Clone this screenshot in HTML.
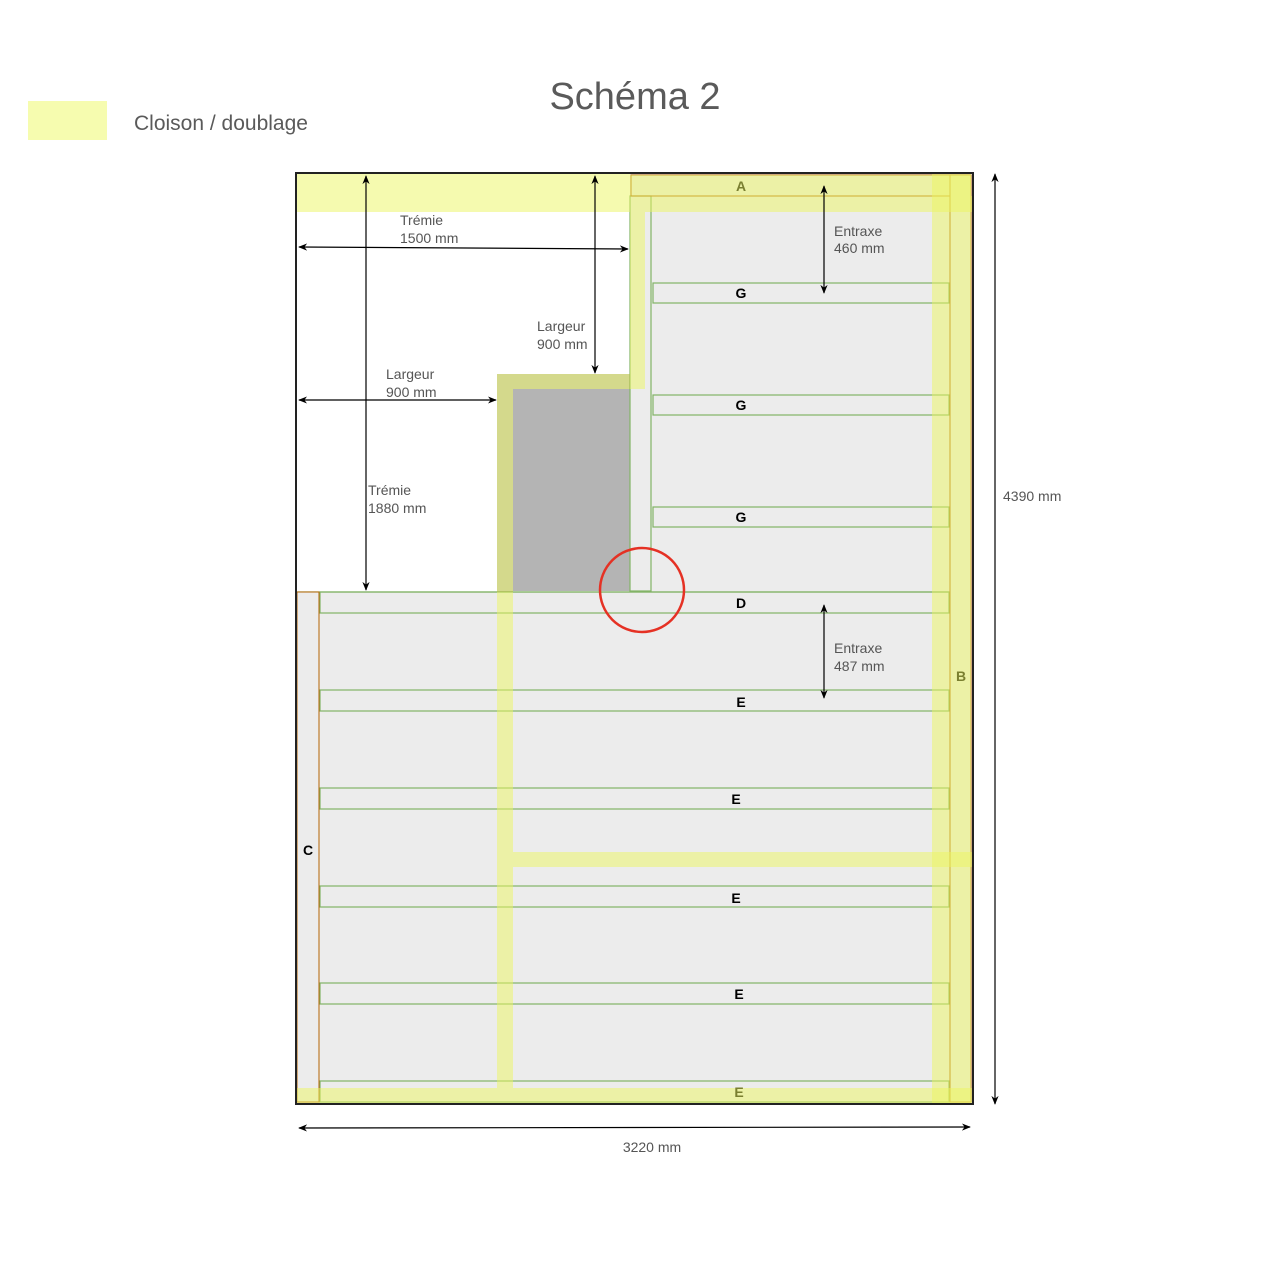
<!DOCTYPE html>
<html><head><meta charset="utf-8"><style>
html,body{margin:0;padding:0;background:#fff;width:1270px;height:1270px;overflow:hidden}
text{font-family:"Liberation Sans",Arial,sans-serif}
</style></head><body>
<svg width="1270" height="1270" viewBox="0 0 1270 1270" xmlns="http://www.w3.org/2000/svg">
<defs>
<marker id="ar" viewBox="0 0 10 10" refX="9" refY="5" markerWidth="9" markerHeight="9" orient="auto-start-reverse" markerUnits="userSpaceOnUse">
<path d="M0,1 L10,5 L0,9 L3,5 Z" fill="#000"/></marker>
</defs>
<text x="635" y="109" font-size="38" fill="#5a5a5a" text-anchor="middle">Schéma 2</text>
<rect x="28" y="101" width="79" height="39" fill="#f6fcaf"/>
<text x="134" y="130" font-size="21" fill="#5a5a5a">Cloison / doublage</text>

<rect x="296" y="592" width="677" height="512" fill="#ececec"/>
<rect x="630" y="173" width="343" height="419" fill="#ececec"/>
<rect x="513" y="389" width="117" height="202" fill="#b4b4b4"/>

<g fill="#ececec" stroke="#82b366" stroke-width="1.2">
<rect x="630" y="196" width="21" height="395"/>
<rect x="653" y="283" width="296" height="20"/>
<rect x="653" y="395" width="296" height="20"/>
<rect x="653" y="507" width="296" height="20"/>
<rect x="320" y="592" width="629" height="21"/>
<rect x="320" y="690" width="629" height="21"/>
<rect x="320" y="788" width="629" height="21"/>
<rect x="320" y="886" width="629" height="21"/>
<rect x="320" y="983" width="629" height="21"/>
<rect x="320" y="1081" width="629" height="21"/>
</g>
<line x1="296" y1="592" x2="949" y2="592" stroke="#82b366" stroke-width="1.2"/>
<rect x="297" y="592" width="22" height="510" fill="#ececec" stroke="#b46504" stroke-width="1"/>
<rect x="631" y="175" width="319" height="21" fill="none" stroke="#b46504" stroke-width="1"/>
<rect x="950" y="175" width="21" height="927" fill="none" stroke="#b46504" stroke-width="1"/>

<g fill="#ecf560" fill-opacity="0.5">
<rect x="296" y="173" width="334" height="39"/>
<rect x="630" y="175" width="341" height="21"/>
<rect x="645" y="196" width="328" height="16"/>
<rect x="630" y="196" width="15" height="193"/>
<rect x="497" y="374" width="133" height="15" fill="#b8c040" fill-opacity="0.6"/>
<rect x="497" y="389" width="16" height="203" fill="#b8c040" fill-opacity="0.6"/>
<rect x="497" y="592" width="16" height="496"/>
<rect x="513" y="852" width="460" height="15"/>
<rect x="296" y="1088" width="677" height="16"/>
<rect x="932" y="173" width="18" height="931"/>
<rect x="950" y="173" width="21" height="931"/>
</g>

<rect x="296" y="173" width="677" height="931" fill="none" stroke="#222" stroke-width="2"/>

<circle cx="642" cy="590" r="42" fill="none" stroke="#e53124" stroke-width="2.5"/>

<g font-size="14" font-weight="bold" fill="#000" text-anchor="middle">
<text x="741" y="298">G</text><text x="741" y="410">G</text><text x="741" y="522">G</text>
<text x="741" y="608">D</text><text x="741" y="707">E</text><text x="736" y="804">E</text>
<text x="736" y="903">E</text><text x="739" y="999">E</text>
<text x="308" y="855">C</text>
</g>
<g font-size="14" font-weight="bold" fill="#7a7f30" text-anchor="middle">
<text x="741" y="191">A</text><text x="739" y="1097">E</text><text x="961" y="681">B</text>
</g>

<g stroke="#000" stroke-width="1.2" marker-start="url(#ar)" marker-end="url(#ar)">
<line x1="299" y1="247" x2="628" y2="249"/>
<line x1="366" y1="176" x2="366" y2="590"/>
<line x1="595" y1="176" x2="595" y2="373"/>
<line x1="299" y1="400" x2="496" y2="400"/>
<line x1="824" y1="186" x2="824" y2="293"/>
<line x1="824" y1="605" x2="824" y2="698"/>
<line x1="995" y1="174" x2="995" y2="1104"/>
<line x1="299" y1="1128" x2="970" y2="1127"/>
</g>
<g font-size="14" fill="#555">
<text x="400" y="225">Trémie</text><text x="400" y="243">1500 mm</text>
<text x="537" y="331">Largeur</text><text x="537" y="349">900 mm</text>
<text x="386" y="379">Largeur</text><text x="386" y="397">900 mm</text>
<text x="368" y="495">Trémie</text><text x="368" y="513">1880 mm</text>
<text x="834" y="236">Entraxe</text><text x="834" y="253">460 mm</text>
<text x="834" y="653">Entraxe</text><text x="834" y="671">487 mm</text>
<text x="1003" y="501">4390 mm</text>
<text x="652" y="1152" text-anchor="middle">3220 mm</text>
</g>
</svg>
</body></html>
